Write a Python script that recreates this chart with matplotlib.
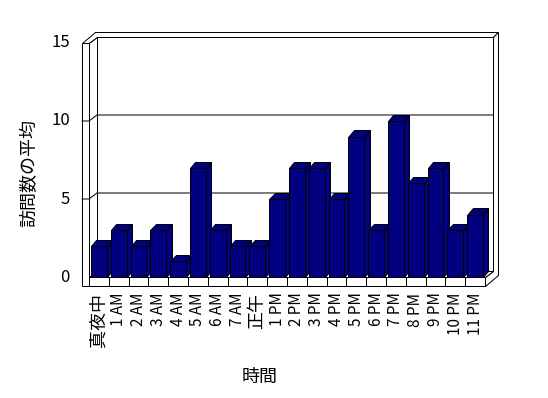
import matplotlib.pyplot as plt
from matplotlib.patches import Polygon

# =============================
# data
# =============================
hours = ["真夜中", "1 AM", "2 AM", "3 AM", "4 AM", "5 AM", "6 AM", "7 AM",
         "正午", "1 PM", "2 PM", "3 PM", "4 PM", "5 PM", "6 PM", "7 PM",
         "8 PM", "9 PM", "10 PM", "11 PM"]
visits = [2, 3, 2, 3, 1, 7, 3, 2, 2, 5, 7, 7, 5, 9, 3, 10, 6, 7, 3, 4]
y_ticks = [0, 5, 10, 15]

plt.rcParams['font.family'] = ['Noto Sans CJK JP', 'DejaVu Sans']

navy = '#000080'
n = len(hours)
ymax = y_ticks[-1]

# 3D look (data units)
dx, dy = 0.40, 0.385     # floor depth
tx, ty = 0.25, 0.32      # wall thickness
bx, by = 0.27, 0.40      # bar depth
wall = 0.35              # left wall thickness
floor_h = 0.58           # floor slab thickness
lw = 0.72

fig = plt.figure(figsize=(5.48, 3.98), dpi=100)
ax = fig.add_axes([0, 0, 1, 1])
ax.set_xlim(-4.495, 23.18)
ax.set_ylim(-7.756, 17.756)
ax.axis('off')


def face(pts, fc='white', z=1):
    ax.add_patch(Polygon(pts, closed=True, facecolor=fc, edgecolor='black',
                         linewidth=lw, zorder=z, joinstyle='miter', snap=True))


# =============================
# walls and floor
# =============================
# back wall
face([(dx, dy), (n + dx, dy), (n + dx, ymax + dy), (dx, ymax + dy)])
# top edge of left + back wall
face([(-wall, ymax), (0, ymax), (dx, ymax + dy), (n + dx, ymax + dy),
      (n + dx + tx, ymax + dy + ty), (-wall + dx + tx, ymax + dy + ty)])
# right side
face([(n, 0), (n + dx, dy), (n + dx, ymax + dy), (n + dx + tx, ymax + dy + ty),
      (n + dx + tx, -floor_h + dy + ty), (n, -floor_h)])
# left wall inner face
face([(0, 0), (dx, dy), (dx, ymax + dy), (0, ymax)])
# floor top
face([(0, 0), (n, 0), (n + dx, dy), (dx, dy)])
# left wall front + floor front
face([(-wall, ymax), (0, ymax), (0, 0), (n, 0), (n, -floor_h), (-wall, -floor_h)])

# gridlines
for v in y_ticks[1:-1]:
    ax.plot([-wall, 0, dx, n + dx], [v, v, v + dy, v + dy],
            color='black', lw=lw, zorder=2, solid_joinstyle='miter')

# category ticks on the floor front
for i in range(n + 1):
    ax.plot([i, i], [0, -floor_h], color='black', lw=lw, zorder=2, snap=True)

# =============================
# bars
# =============================
for i, v in enumerate(visits):
    x0, x1 = i + 0.1, i + 0.9
    z = 3 + i
    face([(x1, 0), (x1 + bx, by), (x1 + bx, v + by), (x1, v)], navy, z)
    face([(x0, v), (x1, v), (x1 + bx, v + by), (x0 + bx, v + by)], navy, z)
    face([(x0, 0), (x1, 0), (x1, v), (x0, v)], navy, z)

# =============================
# labels
# =============================
for v in y_ticks:
    ax.text(-0.96, v, str(v), ha='right', va='center', fontsize=12)

for i, lab in enumerate(hours):
    size = 11 if lab.isascii() else 13
    ax.text(i + 0.5, -1.0, lab, rotation=90, ha='center', va='top',
            fontsize=size)

fig.text(29 / 548, 1 - 173 / 398, "訪問数の平均", rotation=90,
         ha='center', va='center', fontsize=13)
fig.text(260 / 548, 1 - 377 / 398, "時間", ha='center', va='center',
         fontsize=13)

fig.savefig("out.png", dpi=100)
